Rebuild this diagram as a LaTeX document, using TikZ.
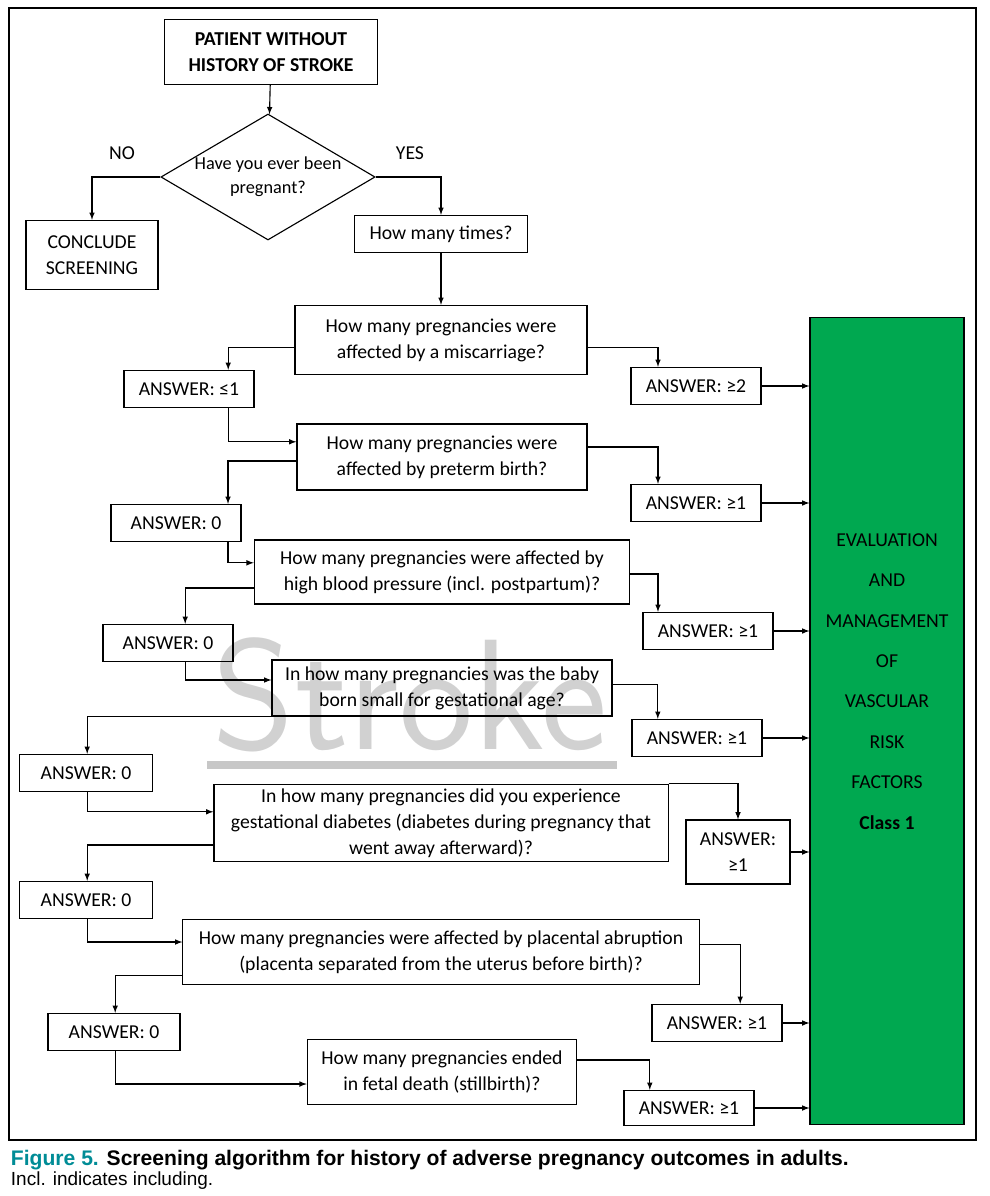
\documentclass[tikz,border=0pt]{standalone}
\usepackage{fontspec}
\setmainfont{Carlito}
\newfontfamily\capfont{Liberation Sans}
\usetikzlibrary{shapes.geometric,calc}
\definecolor{boxgreen}{RGB}{0,168,80}
\definecolor{figteal}{RGB}{0,140,150}

\begin{document}
\begin{tikzpicture}[
  x=0.025cm, y=-0.025cm,
  > = latex,
  every node/.style = {font=\fontsize{14}{18.5}\selectfont},
  box/.style = {draw, thick, align=center, inner sep=0pt},
  ans/.style = {box, minimum width=3.25cm, minimum height=0.93cm},
  flow/.style = {->, thick}
  ]
	\useasboundingbox (0,0) rectangle (990,1196);
	\draw[thick] (9,8) rectangle (976,1140);

	% watermark
	\node[text=black!18, font=\sffamily\fontsize{112}{112}\selectfont] (wm) at (410,695) {Stroke};
	\fill[black!22] (207,761) rectangle (617,769);

	\node[box, font=\bfseries\fontsize{14}{18.5}\selectfont, minimum width=5.33cm, minimum height=1.63cm] (start) at (271,52) {PATIENT WITHOUT\\HISTORY OF STROKE};
	\node[draw, thick, diamond, aspect=1.7, inner sep=0pt, minimum width=5.33cm, minimum height=3.13cm, align=center, font=\fontsize{13}{17}\selectfont] (preg) at (268,177) {Have you ever been\\pregnant?};
	\node at (122,153) {NO};
	\node at (410,153) {YES};
	\node[box, minimum width=3.3cm, minimum height=1.73cm] (stop) at (92,255) {CONCLUDE\\SCREENING};
	\node[box, minimum width=4.33cm, minimum height=0.93cm] (times) at (441,234) {How many times?};

	\node[box, minimum width=7.3cm, minimum height=1.73cm] (q1) at (441,340) {How many pregnancies were\\affected by a miscarriage?};
	\node[ans] (a1) at (189,389) {ANSWER: ≤1};
	\node[ans] (b1) at (696,386) {ANSWER: ≥2};
	\node[box, minimum width=7.25cm, minimum height=1.65cm] (q2) at (442,457) {How many pregnancies were\\affected by preterm birth?};
	\node[ans] (a2) at (176,523) {ANSWER: 0};
	\node[ans] (b2) at (696,503) {ANSWER: ≥1};
	\node[box, minimum width=9.38cm, minimum height=1.6cm] (q3) at (442,572) {How many pregnancies were affected by\\high blood pressure (incl. postpartum)?};
	\node[ans] (a3) at (168,643) {ANSWER: 0};
	\node[ans] (b3) at (708,631) {ANSWER: ≥1};
	\node[box, minimum width=8.5cm, minimum height=1.4cm] (q4) at (442,688) {In how many pregnancies was the baby\\born small for gestational age?};
	\node[ans, minimum width=3.33cm] (a4) at (86,773) {ANSWER: 0};
	\node[ans] (b4) at (697,738) {ANSWER: ≥1};
	\node[box, minimum width=11.35cm, minimum height=1.93cm] (q5) at (441,823) {In how many pregnancies did you experience\\gestational diabetes (diabetes during pregnancy that\\went away afterward)?};
	\node[ans, minimum width=3.33cm] (a5) at (86,900) {ANSWER: 0};
	\node[box, minimum width=2.6cm, minimum height=1.6cm] (b5) at (738,852) {ANSWER:\\≥1};
	\node[box, minimum width=12.9cm, minimum height=1.63cm] (q6) at (441,952) {How many pregnancies were affected by placental abruption\\(placenta separated from the uterus before birth)?};
	\node[ans, minimum width=3.3cm] (a6) at (114,1032) {ANSWER: 0};
	\node[ans] (b6) at (717,1023) {ANSWER: ≥1};
	\node[box, minimum width=6.73cm, minimum height=1.63cm] (q7) at (442,1072) {How many pregnancies ended\\in fetal death (stillbirth)?};
	\node[ans, minimum height=0.88cm] (b7) at (689,1108) {ANSWER: ≥1};

	\node[box, fill=boxgreen, minimum width=3.85cm, minimum height=20.15cm] (eval) at (887,721) {};
	\foreach \t [count=\i] in {EVALUATION,AND,MANAGEMENT,OF,VASCULAR,RISK,FACTORS}
		\node at (887,{500+40.3*\i}) {\t};
	\node[font=\bfseries\fontsize{14}{18.5}\selectfont] at (887,823) {Class 1};

	% connectors
	\draw[flow] (start) -- (preg);
	\draw[flow] (preg.west) -| (stop.north);
	\draw[flow] (preg.east) -| (times.north);
	\draw[flow] (times) -- (q1);
	\draw[flow] ([yshift=-0.18cm]q1.west) -| ([xshift=0.98cm]a1.north);
	\draw[flow] ([yshift=-0.18cm]q1.east) -| ([xshift=-0.95cm]b1.north);
	\draw[flow] ([xshift=0.98cm]a1.south) |- ([yshift=0.38cm]q2.west);
	\draw[flow] ([yshift=-0.1cm]q2.west) -| ([xshift=1.3cm]a2.north);
	\draw[flow] ([yshift=0.25cm]q2.east) -| ([xshift=-0.95cm]b2.north);
	\draw[flow] ([xshift=1.3cm]a2.south) |- ([yshift=0.23cm]q3.west);
	\draw[flow] ([yshift=-0.4cm]q3.west) -| ([xshift=0.43cm]a3.north);
	\draw[flow] ([yshift=-0.05cm]q3.east) -| ([xshift=-1.25cm]b3.north);
	\draw[flow] ([xshift=0.43cm]a3.south) |- ([yshift=0.2cm]q4.west);
	\draw[flow] (q4.south west) -| ([xshift=0.03cm]a4.north);
	\draw[flow] ([yshift=0.08cm]q4.east) -| ([xshift=-0.98cm]b4.north);
	\draw[flow] ([xshift=0.03cm]a4.south) |- ([yshift=0.28cm]q5.west);
	\draw[flow] ([yshift=-0.55cm]q5.west) -| ([xshift=0.03cm]a5.north);
	\draw[flow] (q5.north east) -| (b5.north);
	\draw[flow] ([xshift=0.03cm]a5.south) |- ([yshift=0.25cm]q6.west);
	\draw[flow] ([yshift=-0.58cm]q6.west) -| ([xshift=0.03cm]a6.north);
	\draw[flow] ([yshift=0.18cm]q6.east) -| ([xshift=0.58cm]b6.north);
	\draw[flow] ([xshift=0.03cm]a6.south) |- ([yshift=-0.3cm]q7.west);
	\draw[flow] ([yshift=0.3cm]q7.east) -| ([xshift=-0.98cm]b7.north);
	\foreach \b in {b1,b2,b3,b4,b5,b6,b7}
		\draw[flow] (\b.east) -- (\b.east -| eval.west);

	% caption
	\node[anchor=west, font=\capfont\bfseries\fontsize{15}{17}\selectfont] (cap) at (6,1160) {\textcolor{figteal}{Figure 5.} Screening algorithm for history of adverse pregnancy outcomes in adults.};
	\node[anchor=west, font=\capfont\fontsize{13.5}{16}\selectfont] (note) at (6,1181) {Incl. indicates including.};
\end{tikzpicture}
\end{document}
